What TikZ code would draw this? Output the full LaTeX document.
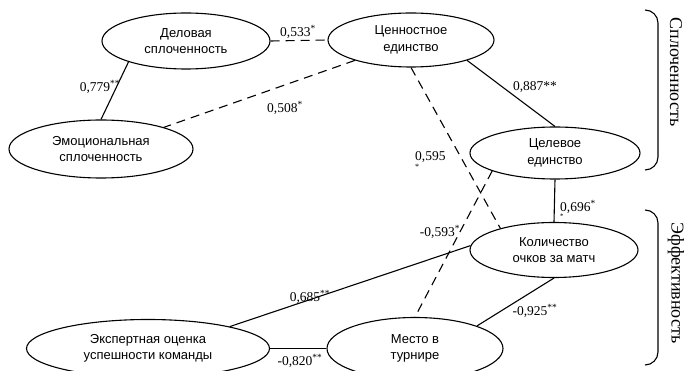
\documentclass[tikz,border=0pt]{standalone}
\usepackage{fontspec}
\setmainfont{Liberation Serif}
\setsansfont{Liberation Sans}
\usetikzlibrary{shapes.geometric}

\begin{document}
\begin{tikzpicture}[
  x=1pt, y=-1pt,
  factor/.style={ellipse, draw=black, line width=1.1pt, fill=white, align=center,
    inner sep=0pt, font=\sffamily\fontsize{13}{16.5}\selectfont},
  coef/.style={font=\fontsize{13.5}{14}\selectfont, inner sep=1pt},
  link/.style={line width=1.1pt, black},
  weak/.style={link, dash pattern=on 9pt off 6pt},
  bracket/.style={line width=1.1pt, rounded corners=13pt},
  group/.style={font=\fontsize{18}{20}\selectfont, rotate=-90, inner sep=0pt}
]
\clip (0,0) rectangle (686,371);
\fill[white] (0,0) rectangle (686,371);

\node[factor, minimum width=168pt, minimum height=56pt] (del) at (186,41)
  {Деловая\\сплоченность};
\node[factor, minimum width=166pt, minimum height=54pt] (cen) at (411,40)
  {Ценностное\\единство};
\node[factor, minimum width=184pt, minimum height=58pt] (emo) at (101,149)
  {Эмоциональная\\сплоченность};
\node[factor, minimum width=170pt, minimum height=52pt] (cel) at (555,153)
  {Целевое\\единство};
\node[factor, minimum width=168pt, minimum height=55pt] (kol) at (554,250)
  {Количество\\очков за матч};
\node[factor, minimum width=243pt, minimum height=58pt] (eks) at (148,348.5)
  {Экспертная оценка\\успешности команды};
\node[factor, minimum width=176pt, minimum height=62pt] (mes) at (415,348.5)
  {Место в\\турнире};

\foreach \a/\b in {del.200/emo.90,cen.340/cel.north,cel.south/kol.north,eks.15/kol.177,kol.south/mes.20,eks.east/mes.west}
  \draw[link] (\a) -- (\b);
\foreach \a/\b in {del.east/cen.west,cen.200/emo.19,cen.south/kol.158,cel.196/mes.north}
  \draw[weak] (\a) -- (\b);

\node[coef] (l533) at (298,32) {0,533\textsuperscript{*}};
\node[coef] (l779) at (100,87) {0,779\textsuperscript{**}};
\node[coef] (l508) at (285,108) {0,508\textsuperscript{*}};
\node[coef] (l887) at (535,87) {0,887**};
\node[coef, align=left, anchor=north west] (l595) at (414,150)
  {0,595\\[-5pt]{\fontsize{8}{8}\selectfont *}};
\node[coef] (l593) at (440,232) {-0,593\textsuperscript{*}};
\node[coef, align=left, anchor=north west] (l696) at (559,199)
  {0,696\textsuperscript{*}\\[-7pt]{\fontsize{7}{7}\selectfont *}};
\node[coef] (l685) at (310,297) {0,685\textsuperscript{**}};
\node[coef] (l925) at (535,311) {-0,925\textsuperscript{**}};
\node[coef] (l820) at (300,361) {-0,820\textsuperscript{**}};

% group brackets
\draw[bracket] (645,10) -- (658,10) -- (658,170) -- (645,170);
\draw[bracket] (645,210) -- (658,210) -- (658,365) -- (645,365);
\node[group] (cohesion) at (676,72) {Сплоченность};
\node[group] (efficiency) at (676,283) {Эффективность};
\end{tikzpicture}
\end{document}
